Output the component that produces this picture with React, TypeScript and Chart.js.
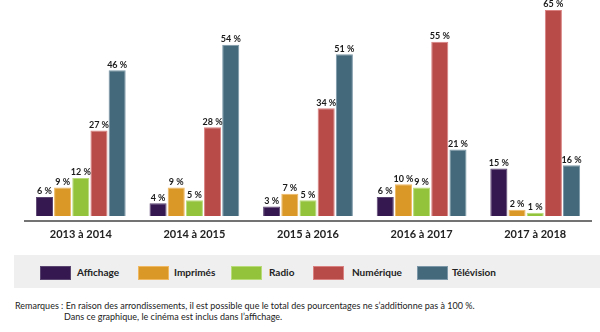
import React, { useEffect, useRef } from "react";
import { Chart, registerables } from "chart.js";

Chart.register(...registerables);

const categories = ["2013 à 2014", "2014 à 2015", "2015 à 2016", "2016 à 2017", "2017 à 2018"];
const seriesNames = ["Affichage", "Imprimés", "Radio", "Numérique", "Télévision"];
const affichage = [6, 4, 3, 6, 15];
const imprimes = [9, 9, 7, 10, 2];
const radio = [12, 5, 5, 9, 1];
const numerique = [27, 28, 34, 55, 65];
const television = [46, 54, 51, 21, 16];
const seriesValues = [affichage, imprimes, radio, numerique, television];
const colors = ["#361850", "#da9826", "#93c23b", "#b84a47", "#44697b"];
const borders = ["#5a4470", "#f0b860", "#b8dc78", "#d98080", "#7c98a8"];
const notes = [
  "Remarques : En raison des arrondissements, il est possible que le total des pourcentages ne s’additionne pas à 100 %.",
  "Dans ce graphique, le cinéma est inclus dans l’affichage.",
];

const FONT = "Lato, 'Open Sans', sans-serif";

const overlay = {
  id: "overlay",
  afterDatasetsDraw(chart: any) {
    const ctx = chart.ctx;
    const area = chart.chartArea;
    ctx.save();
    // values
    ctx.font = `bold 9px ${FONT}`;
    ctx.fillStyle = "#1a1a1a";
    ctx.textAlign = "center";
    ctx.textBaseline = "bottom";
    chart.data.datasets.forEach((ds: any, di: number) => {
      const meta = chart.getDatasetMeta(di);
      meta.data.forEach((bar: any, i: number) => {
        ctx.fillText(ds.data[i] + " %", bar.x, bar.y - 1);
      });
    });
    // baseline
    ctx.strokeStyle = "#444";
    ctx.lineWidth = 1.5;
    ctx.beginPath();
    ctx.moveTo(area.left, area.bottom + 5);
    ctx.lineTo(area.right, area.bottom + 5);
    ctx.stroke();
    // category labels
    ctx.font = `bold 11px ${FONT}`;
    ctx.fillStyle = "#222";
    ctx.textBaseline = "middle";
    const xs = chart.scales.x;
    chart.data.labels.forEach((l: string, i: number) => {
      ctx.fillText(l, xs.getPixelForValue(i), area.bottom + 18);
    });
    ctx.restore();
  },
};

function BarChart() {
  const ref = useRef<HTMLCanvasElement>(null);
  useEffect(() => {
    const chart = new Chart(ref.current!, {
      type: "bar",
      data: {
        labels: categories,
        datasets: seriesNames.map((n, k) => ({
          label: n,
          data: seriesValues[k],
          backgroundColor: colors[k],
          borderColor: borders[k],
          borderWidth: 1,
          categoryPercentage: 0.8,
          barPercentage: 0.94,
        })),
      },
      options: {
        responsive: false,
        animation: false,
        events: [],
        layout: { padding: { left: 24, right: 8, top: 10, bottom: 34 } },
        plugins: { legend: { display: false }, tooltip: { enabled: false } },
        scales: {
          x: { display: false },
          y: { display: false, min: 0, max: 65 },
        },
      },
      plugins: [overlay],
    });
    return () => chart.destroy();
  }, []);
  return <canvas ref={ref} width={600} height={250} style={{ position: "absolute", left: 0, top: 0 }} />;
}

export default function App() {
  const swatchX = [40, 138, 231, 313, 417];
  const textX = [77, 174, 269, 352, 452];
  return (
    <div style={{ position: "fixed", left: 0, top: 0, width: 600, height: 332, background: "#fff", overflow: "hidden", fontFamily: FONT }}>
      <BarChart />
      <div style={{ position: "absolute", left: 14, top: 255, width: 586, height: 33, background: "#efefef" }} />
      {seriesNames.map((n, k) => (
        <React.Fragment key={n}>
          <div style={{ position: "absolute", left: swatchX[k], top: 266, width: 29, height: 12, background: colors[k], border: `1px solid ${borders[k]}` }} />
          <div style={{ position: "absolute", left: textX[k], top: 265, fontSize: 10, fontWeight: 700, color: "#222", lineHeight: "14px" }}>{n}</div>
        </React.Fragment>
      ))}
      <div style={{ position: "absolute", left: 15, top: 300, fontSize: 9, color: "#222", lineHeight: "11px", whiteSpace: "nowrap" }}>{notes[0]}</div>
      <div style={{ position: "absolute", left: 64, top: 311, fontSize: 9, color: "#222", lineHeight: "11px", whiteSpace: "nowrap" }}>{notes[1]}</div>
    </div>
  );
}
